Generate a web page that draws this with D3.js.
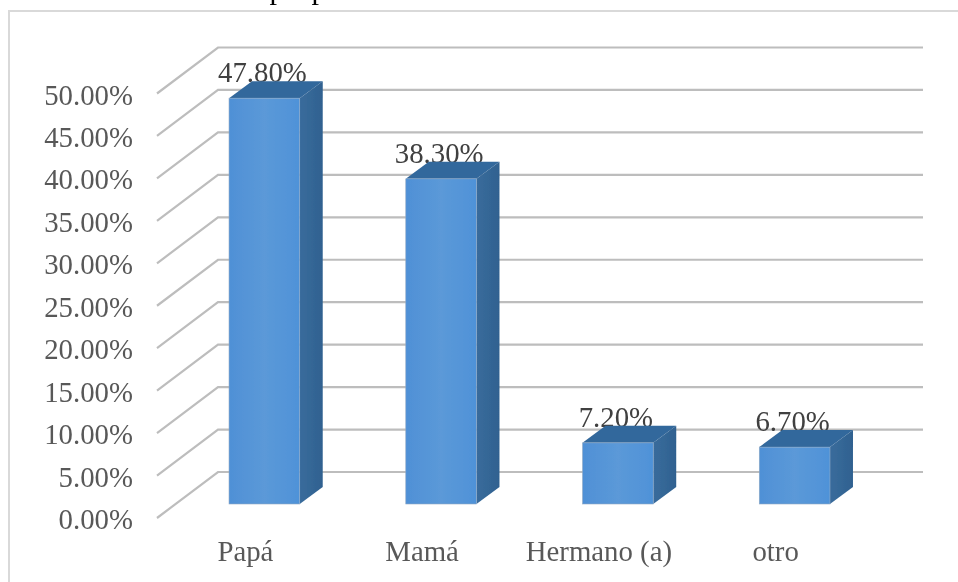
<!DOCTYPE html>
<html><head><meta charset="utf-8">
<script src="https://cdnjs.cloudflare.com/ajax/libs/d3/7.8.5/d3.min.js"></script>
<style>html,body{margin:0;padding:0;background:#fff}svg{display:block}text{font-family:"Liberation Serif",serif}</style>
</head><body><svg id="c" width="958" height="582"></svg>
<script>
const categories = ["Papá","Mamá","Hermano (a)","otro"];
const values = [47.8,38.3,7.2,6.7];
const valueLabels = ["47.80%","38.30%","7.20%","6.70%"];
const ticks = [0,5,10,15,20,25,30,35,40,45,50];
const clippedTitleLetters = ["p","p"];

const W=958,H=582;
const root=d3.select("#c");
const defs=root.append("defs");
const blur=defs.append("filter").attr("id","soft").attr("x",0).attr("y",0).attr("width","100%").attr("height","100%")
  .attr("filterUnits","userSpaceOnUse").attr("x",0).attr("y",0).attr("width",W).attr("height",H);
blur.append("feGaussianBlur").attr("stdDeviation",0.55);
const svg=root.append("g").attr("filter","url(#soft)");
svg.append("rect").attr("width",W).attr("height",H).attr("fill","#fff");

const y=d3.scaleLinear().domain([0,50]).range([518,93.5]);
const x=d3.scaleBand().domain(categories).range([176,883]).paddingInner(0.6).paddingOuter(0.3);
const wallDx=61, wallDy=-46, barDx=23, barDy=-17, barFrontOffset=-14;
const right=923;

const g=defs.append("linearGradient").attr("id","front").attr("x1",0).attr("x2",1).attr("y1",0).attr("y2",0);
g.append("stop").attr("offset","0").attr("stop-color","#4f90d6");
g.append("stop").attr("offset","0.5").attr("stop-color","#5b99d8");
g.append("stop").attr("offset","1").attr("stop-color","#4f92d8");
const gs=defs.append("linearGradient").attr("id","side").attr("x1",0).attr("x2",1).attr("y1",0).attr("y2",0);
gs.append("stop").attr("offset","0").attr("stop-color","#3a6c9c");
gs.append("stop").attr("offset","1").attr("stop-color","#2f6190");

svg.append("rect").attr("x",9).attr("y",11).attr("width",W).attr("height",H)
  .attr("fill","#fff").attr("stroke","#d9d9d9").attr("stroke-width",2);

svg.selectAll("text.ttl").data(clippedTitleLetters).join("text").attr("class","ttl")
  .attr("x",(d,i)=>[277,319][i]).attr("y",-1).attr("text-anchor","middle")
  .attr("font-size",30).attr("fill","#000").text(d=>d);

const grid=svg.append("g").attr("fill","none").attr("stroke","#bdbdbd").attr("stroke-width",2.2);
grid.selectAll("path").data(ticks).join("path")
  .attr("d",t=>d3.line()([[157,y(t)],[157+wallDx,y(t)+wallDy],[right,y(t)+wallDy]]));

svg.append("g").selectAll("text").data(ticks).join("text")
  .attr("x",133).attr("y",t=>y(t)+11).attr("text-anchor","end")
  .attr("font-size",28.8).attr("fill","#595959").text(t=>d3.format(".2f")(t)+"%");

const fy=v=>y(v)+barFrontOffset;

svg.append("g").selectAll("text").data(categories).join("text")
  .attr("x",c=>x(c)+x.bandwidth()/2-2).attr("y",(c,i)=>fy(values[i])+barDy+1)
  .attr("text-anchor","middle").attr("font-size",28.8).attr("fill","#404040")
  .text((c,i)=>valueLabels[i]);

const bars=svg.append("g").selectAll("g").data(categories).join("g");
bars.append("path").attr("fill","#33689c")
  .attr("d",(c,i)=>{const l=x(c),r=l+x.bandwidth(),t=fy(values[i]);
    return d3.line()([[l,t],[l+barDx,t+barDy],[r+barDx,t+barDy],[r,t]])+"Z";});
bars.append("path").attr("fill","url(#side)")
  .attr("d",(c,i)=>{const r=x(c)+x.bandwidth(),t=fy(values[i]),b=fy(0);
    return d3.line()([[r,t],[r+barDx,t+barDy],[r+barDx,b+barDy],[r,b]])+"Z";});
bars.append("rect").attr("fill","url(#front)").attr("stroke","#8fa9c4").attr("stroke-width",0.6)
  .attr("x",c=>x(c)).attr("width",x.bandwidth())
  .attr("y",(c,i)=>fy(values[i])).attr("height",(c,i)=>fy(0)-fy(values[i]));

svg.append("g").selectAll("text").data(categories).join("text")
  .attr("x",c=>x(c)+x.bandwidth()/2-19).attr("y",561)
  .attr("text-anchor","middle").attr("font-size",28.8).attr("fill","#595959").text(c=>c);
</script></body></html>
